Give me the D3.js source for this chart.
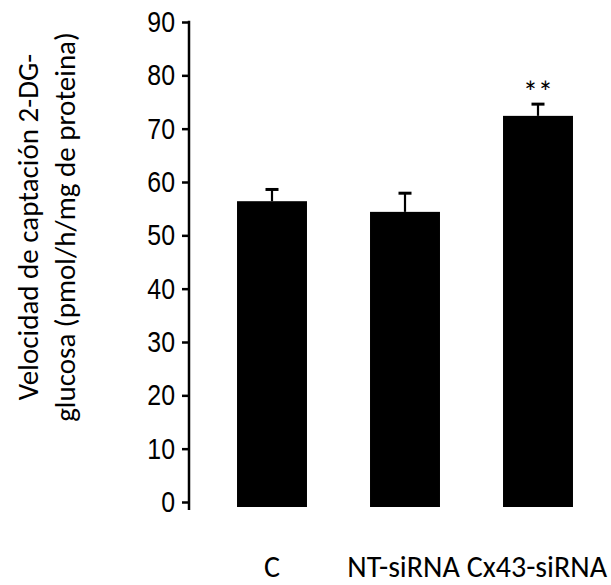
<!DOCTYPE html>
<html>
<head>
<meta charset="utf-8">
<script src="https://cdn.jsdelivr.net/npm/d3@7"></script>
<style>
  body { margin: 0; background: #fff; }
</style>
</head>
<body>
<div id="chart"></div>
<script>
// chart values
var groups = ['C', 'NT-siRNA', 'Cx43-siRNA'];
var means = [56.4, 54.4, 72.4];
var errors = [2.2, 3.5, 2.2];
var marks = ['', '', '**'];
var yTicks = [0, 10, 20, 30, 40, 50, 60, 70, 80, 90];

var width = 611,
    height = 585;

var svg = d3.select('#chart')
    .append('svg')
    .attr('width', width)
    .attr('height', height);

var x = d3.scaleBand()
    .domain(groups)
    .range([205.5, 604.5])
    .paddingInner(0.474)
    .paddingOuter(0.237);

var y = d3.scaleLinear()
    .domain([0, 90])
    .range([502, 22]);

// y axis
var yAxis = svg.append('g')
    .attr('transform', 'translate(189,0)')
    .call(d3.axisLeft(y).tickValues(yTicks).tickSize(7).tickSizeOuter(0));

yAxis.select('.domain').remove();
yAxis.selectAll('.tick line')
    .attr('stroke', '#000')
    .attr('stroke-width', 2.5);
// the tick numbers are a narrow face, squeeze them horizontally
yAxis.selectAll('.tick text')
    .attr('x', 0)
    .attr('transform', 'translate(-14,0) scale(0.83,1)')
    .attr('fill', '#000')
    .style('font-family', '"Liberation Sans", Arial, sans-serif')
    .style('font-size', '30px');

yAxis.append('line')
    .attr('x1', 0)
    .attr('x2', 0)
    .attr('y1', y(90) - 1.2)
    .attr('y2', y(0) + 8)
    .attr('stroke', '#000')
    .attr('stroke-width', 2.5);

// bars
svg.append('g')
    .selectAll('rect')
    .data(groups)
    .enter()
    .append('rect')
    .attr('x', function(d) { return x(d); })
    .attr('width', x.bandwidth())
    .attr('y', function(d, i) { return y(means[i]); })
    .attr('height', function(d, i) { return y(0) + 5 - y(means[i]); })
    .attr('fill', '#000');

// error bars
var err = svg.append('g')
    .attr('stroke', '#000')
    .selectAll('g')
    .data(groups)
    .enter()
    .append('g');

err.append('line')
    .attr('x1', function(d) { return x(d) + x.bandwidth() / 2; })
    .attr('x2', function(d) { return x(d) + x.bandwidth() / 2; })
    .attr('y1', function(d, i) { return y(means[i]); })
    .attr('y2', function(d, i) { return y(means[i] + errors[i]); })
    .attr('stroke-width', 2.2);

err.append('line')
    .attr('x1', function(d) { return x(d) + x.bandwidth() / 2 - 6.5; })
    .attr('x2', function(d) { return x(d) + x.bandwidth() / 2 + 6.5; })
    .attr('y1', function(d, i) { return y(means[i] + errors[i]); })
    .attr('y2', function(d, i) { return y(means[i] + errors[i]); })
    .attr('stroke-width', 3);

// significance marks
svg.append('g')
    .selectAll('text')
    .data(groups)
    .enter()
    .append('text')
    .attr('text-anchor', 'middle')
    .attr('x', function(d) { return x(d) + x.bandwidth() / 2; })
    .attr('y', function(d, i) { return y(means[i] + errors[i]) - 1; })
    .style('font-family', 'Carlito, "Open Sans", sans-serif')
    .style('font-size', '30px')
    .text(function(d, i) { return marks[i]; });

// category labels, centred under the bars but pushed left so they fit
var labels = svg.append('g')
    .selectAll('text')
    .data(groups)
    .enter()
    .append('text')
    .attr('text-anchor', 'start')
    .attr('y', 577)
    .style('font-family', 'Carlito, "Open Sans", sans-serif')
    .style('font-size', '30px')
    .text(function(d) { return d; });

var limit = width - 4;
labels.nodes().reverse().forEach(function(node) {
    var d = d3.select(node).datum();
    var w = node.getComputedTextLength();
    var right = Math.min(x(d) + x.bandwidth() / 2 + w / 2, limit);
    d3.select(node).attr('x', right - w);
    limit = right - w - 7;
});

// y axis title
var title = svg.append('text')
    .attr('text-anchor', 'middle')
    .attr('transform', 'translate(38,227) rotate(-90)')
    .style('font-family', 'Carlito, "Open Sans", sans-serif')
    .style('font-size', '29px');

title.append('tspan')
    .attr('x', 0)
    .attr('y', 0)
    .text('Velocidad de captación 2-DG-');
title.append('tspan')
    .attr('x', 0)
    .attr('y', 37)
    .text('glucosa (pmol/h/mg de proteina)');
</script>
</body>
</html>
